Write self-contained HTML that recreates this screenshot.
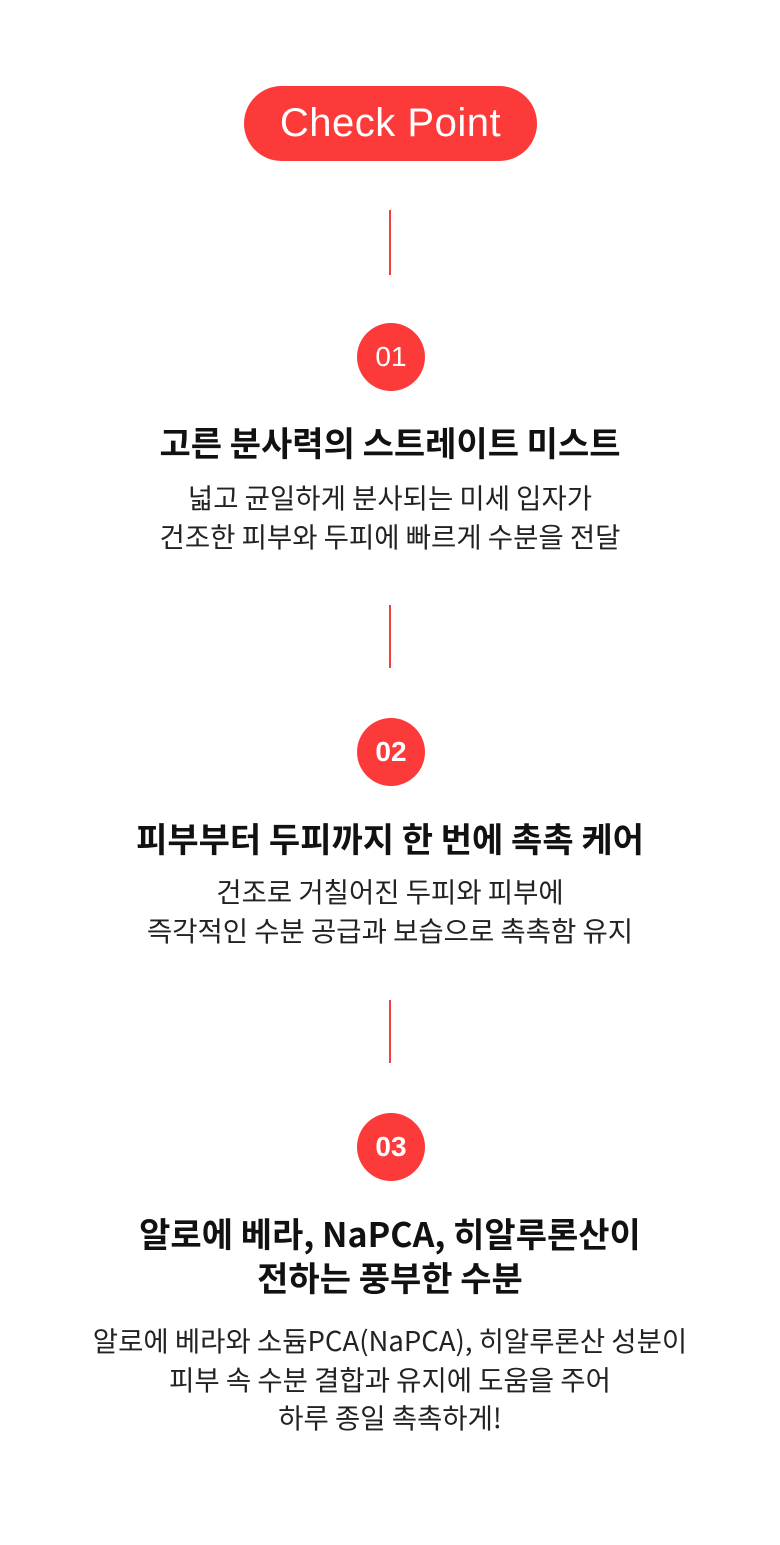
<!DOCTYPE html>
<html><head><meta charset="utf-8"><style>
body{margin:0;width:780px;height:1545px;background:#fff;position:relative;overflow:hidden;font-family:"Liberation Sans","Noto Sans CJK KR",sans-serif;}
.pill{position:absolute;left:244px;top:86px;width:293px;height:75px;border-radius:38px;background:#fd3a3a;color:#fff;font-size:40px;letter-spacing:0.5px;line-height:75px;text-align:center;}
.line{position:absolute;left:389px;width:2px;background:#f04040;}
.c{position:absolute;left:357px;width:68px;height:68px;border-radius:50%;background:#fd3a3a;color:#fff;font-size:28px;line-height:68px;text-align:center;}
.t{position:absolute;left:0;width:780px;text-align:center;font-weight:bold;font-size:34px;color:#111;line-height:44px;font-family:"Noto Sans CJK KR","Liberation Sans",sans-serif;}
.d{position:absolute;left:0;width:780px;text-align:center;font-size:27.5px;color:#222;line-height:38.5px;font-family:"Noto Sans CJK KR","Liberation Sans",sans-serif;}
</style></head><body>
<div class="pill">Check Point</div>
<div class="line" style="top:210px;height:65px"></div>
<div class="c" style="top:323px">01</div>
<div class="t" style="top:420px">고른 분사력의 스트레이트 미스트</div>
<div class="d" style="top:477px">넓고 균일하게 분사되는 미세 입자가<br>건조한 피부와 두피에 빠르게 수분을 전달</div>
<div class="line" style="top:605px;height:63px"></div>
<div class="c" style="top:718px;font-weight:bold">02</div>
<div class="t" style="top:816px">피부부터 두피까지 한 번에 촉촉 케어</div>
<div class="d" style="top:871px">건조로 거칠어진 두피와 피부에<br>즉각적인 수분 공급과 보습으로 촉촉함 유지</div>
<div class="line" style="top:1000px;height:63px"></div>
<div class="c" style="top:1113px;font-weight:bold">03</div>
<div class="t" style="top:1211px">알로에 베라, NaPCA, 히알루론산이<br>전하는 풍부한 수분</div>
<div class="d" style="top:1320px">알로에 베라와 소듐PCA(NaPCA), 히알루론산 성분이<br>피부 속 수분 결합과 유지에 도움을 주어<br>하루 종일 촉촉하게!</div>
</body></html>
